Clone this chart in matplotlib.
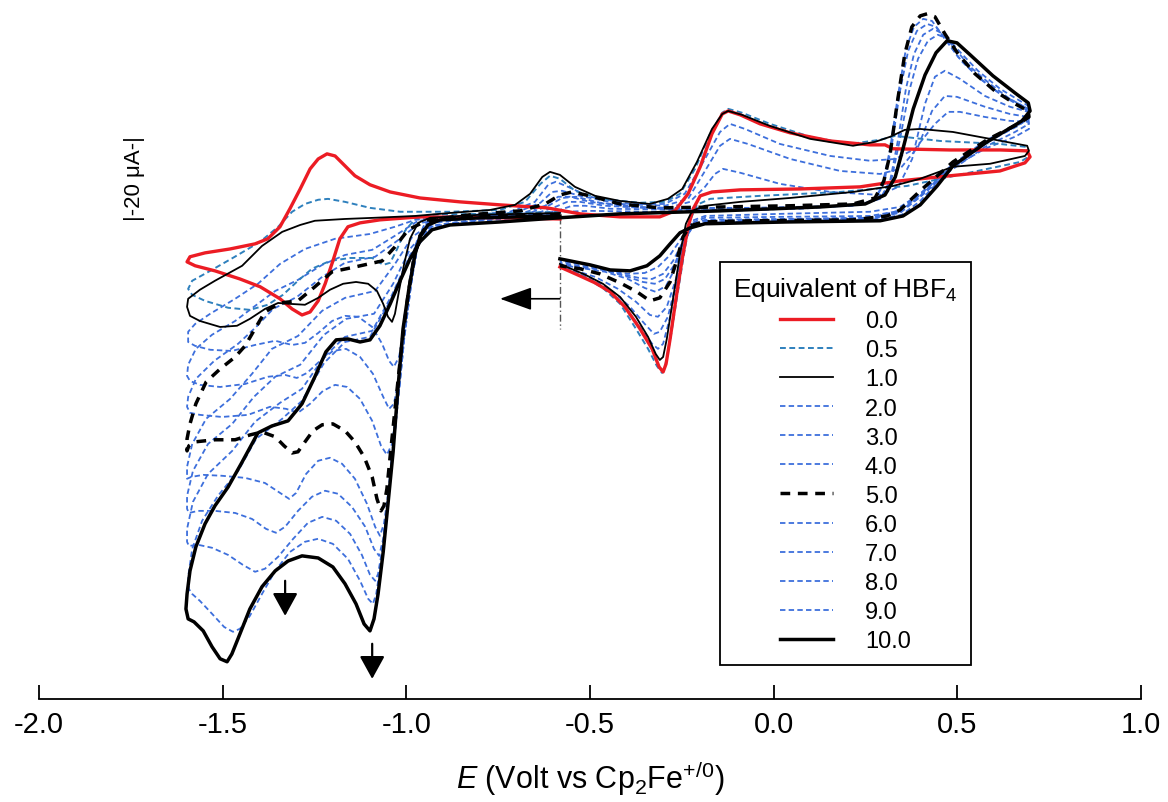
import numpy as np
import matplotlib
matplotlib.use('Agg')
import matplotlib.pyplot as plt
from matplotlib.ticker import FormatStrFormatter

plt.rcParams['font.family'] = ['Liberation Sans', 'DejaVu Sans']
plt.rcParams['mathtext.fontset'] = 'custom'
plt.rcParams['mathtext.rm'] = 'Liberation Sans'
plt.rcParams['mathtext.it'] = 'Liberation Sans:italic'
plt.rcParams['axes.unicode_minus'] = False

# Cyclic voltammograms: E in V vs Cp2Fe+/0, current in uA.
# Every scan starts at -0.58 V, runs to -1.6 V, up to +0.7 V and back to -0.58 V.
e_start = -0.582

e_00 = [-0.582, -0.745, -0.963, -1.072, -1.126, -1.159, -1.181, -1.200, -1.221, -1.240, -1.262, -1.284, -1.311, -1.344, -1.398, -1.453, -1.521, -1.575, -1.597,
        -1.589, -1.548, -1.480, -1.412, -1.377, -1.344, -1.317, -1.289, -1.262, -1.240, -1.216, -1.194, -1.167, -1.140, -1.099, -1.044, -0.963, -0.854, -0.745, -0.617,
        -0.527, -0.418, -0.310, -0.269, -0.233, -0.200, -0.168, -0.140, -0.124, -0.091, -0.037, 0.045, 0.154, 0.262, 0.303, 0.325, 0.480, 0.616, 0.690,
        0.698, 0.684, 0.616, 0.480, 0.344, 0.235, 0.072, -0.091, -0.168, -0.200, -0.219, -0.233, -0.249, -0.266, -0.282, -0.293, -0.301, -0.312, -0.331, -0.364,
        -0.405, -0.445, -0.486, -0.527, -0.582]
i_00 = [-1.7, -1.3, -1.0, -2.0, -3.0, -4.3, -8.3, -15.7, -23.3, -29.0, -32.7, -33.7, -31.7, -28.3, -24.3, -21.7, -19.0, -17.3, -16.0,
        -14.3, -13.0, -11.7, -10.0, -8.3, -4.3, 1.7, 8.3, 15.0, 18.3, 20.0, 19.3, 16.0, 12.7, 9.7, 7.3, 5.3, 4.0, 3.0, 2.0,
        0.0, -1.0, -1.0, 1.0, 6.7, 15.7, 26.7, 33.3, 34.3, 33.0, 30.0, 27.0, 24.3, 23.0, 23.0, 21.7, 21.3, 21.3, 21.0,
        19.0, 17.0, 14.3, 12.7, 11.0, 9.0, 8.3, 8.0, 7.3, 6.0, 1.7, -4.3, -15.0, -28.3, -41.7, -50.0, -52.7, -51.0, -45.0, -38.3,
        -31.0, -26.0, -23.0, -20.7, -17.7]

e_05 = [-0.582, -0.799, -0.935, -0.976, -1.004, -1.025, -1.044, -1.063, -1.093, -1.153, -1.208, -1.257, -1.295, -1.336, -1.377, -1.426, -1.485, -1.548, -1.583, -1.594,
        -1.583, -1.534, -1.467, -1.398, -1.349, -1.311, -1.276, -1.240, -1.213, -1.167, -1.099, -1.017, -0.881, -0.745, -0.677, -0.635, -0.609, -0.582,
        -0.541, -0.473, -0.364, -0.296, -0.255, -0.214, -0.173, -0.140, -0.124, -0.086, -0.010, 0.099, 0.208, 0.290, 0.331, 0.453, 0.616, 0.690,
        0.693, 0.671, 0.543, 0.363, 0.181, -0.037, -0.173, -0.209, -0.228, -0.244, -0.263, -0.282, -0.296, -0.304, -0.318, -0.342, -0.375, -0.418,
        -0.465, -0.513, -0.582]
i_05 = [0.7, 0.0, -0.3, -1.7, -5.7, -11.7, -16.3, -17.0, -14.7, -14.7, -15.7, -18.3, -22.3, -27.0, -30.3, -32.0, -31.3, -29.0, -27.0, -25.0,
        -22.3, -19.0, -14.3, -9.3, -4.3, 0.7, 3.3, 4.7, 5.0, 4.0, 2.0, 0.7, 0.7, 1.3, 4.0, 10.0, 12.7, 11.7,
        7.7, 5.0, 3.7, 4.0, 6.7, 15.0, 26.7, 33.7, 35.0, 33.7, 30.0, 25.7, 23.3, 24.7, 26.0, 24.3, 23.3, 22.3,
        19.0, 17.3, 14.0, 9.3, 7.3, 6.0, 5.0, 3.0, -2.3, -13.3, -27.7, -42.3, -51.0, -53.0, -50.7, -45.0, -38.3, -30.0,
        -24.7, -21.3, -17.7]

e_10 = [-0.582, -0.799, -0.935, -0.968, -0.990, -1.006, -1.020, -1.031, -1.039, -1.050, -1.063, -1.080, -1.104, -1.137, -1.172, -1.208, -1.240, -1.276,
        -1.317, -1.349, -1.385, -1.426, -1.461, -1.507, -1.562, -1.589, -1.597,
        -1.594, -1.562, -1.521, -1.447, -1.393, -1.338, -1.289, -1.249, -1.167, -1.085, -0.976, -0.881, -0.772, -0.704, -0.663, -0.630, -0.609, -0.582,
        -0.541, -0.486, -0.418, -0.337, -0.288, -0.249, -0.209, -0.168, -0.140, -0.124, -0.086, -0.010, 0.099, 0.216, 0.276, 0.317, 0.357, 0.399,
        0.488, 0.589, 0.690,
        0.695, 0.684, 0.589, 0.488, 0.399, 0.325, 0.216, 0.045, -0.091, -0.187, -0.222, -0.239, -0.255, -0.274, -0.291, -0.301, -0.310, -0.321,
        -0.342, -0.375, -0.418, -0.465, -0.513, -0.582]
i_10 = [0.3, -0.3, -1.3, -3.0, -8.3, -16.7, -25.7, -33.3, -36.0, -34.3, -30.0, -25.7, -23.3, -22.7, -23.3, -25.3, -28.0, -30.3,
        -30.0, -29.7, -31.7, -35.0, -37.3, -37.7, -35.7, -34.0, -31.0,
        -28.3, -25.3, -22.3, -17.3, -10.7, -6.0, -3.7, -2.3, -1.7, -1.3, -0.7, 0.3, 1.3, 3.0, 6.7, 12.3, 14.0, 13.0,
        9.0, 6.0, 4.3, 3.3, 5.0, 8.3, 17.3, 28.3, 33.3, 34.3, 33.0, 29.3, 25.0, 22.7, 24.0, 25.7, 28.0, 28.3,
        27.3, 25.0, 22.7,
        21.0, 19.3, 16.7, 15.7, 11.7, 9.3, 7.3, 5.3, 4.0, 2.7, 1.0, -3.3, -13.3, -28.3, -41.7, -47.7, -48.7, -46.7,
        -41.0, -34.3, -27.7, -23.3, -20.3, -16.7]

e_20 = [-0.582, -0.908, -0.949, -0.974, -0.990, -1.006, -1.020, -1.034, -1.047, -1.066, -1.093, -1.131, -1.167, -1.202, -1.240, -1.276, -1.311,
        -1.357, -1.412, -1.475, -1.534, -1.575, -1.594,
        -1.594, -1.575, -1.534, -1.466, -1.404, -1.344, -1.276, -1.194, -1.099, -1.031, -0.976, -0.854, -0.718, -0.650, -0.614, -0.593, -0.560,
        -0.500, -0.391, -0.296, -0.242, -0.187, -0.146, -0.119, -0.078, 0.017, 0.154, 0.262, 0.331, 0.385, 0.439, 0.475, 0.507, 0.575, 0.643, 0.693,
        0.695, 0.657, 0.575, 0.480, 0.399, 0.344, 0.262, 0.017, -0.187, -0.222, -0.242, -0.260, -0.282, -0.301, -0.315, -0.331, -0.364, -0.413,
        -0.465, -0.513, -0.582]
i_20 = [0.0, -1.0, -3.0, -10.0, -21.7, -38.3, -47.7, -51.0, -49.0, -43.3, -37.7, -34.3, -34.0, -35.7, -39.7, -43.0, -43.7,
        -42.3, -43.7, -45.7, -45.3, -44.0, -42.7,
        -39.3, -36.7, -33.3, -28.3, -23.3, -16.7, -11.7, -8.3, -6.7, -4.3, -2.0, -0.7, 0.7, 4.0, 9.7, 10.7, 9.0,
        5.7, 3.3, 3.3, 6.7, 18.3, 27.3, 30.0, 28.3, 23.3, 19.3, 17.7, 18.3, 21.7, 30.0, 34.0, 34.0, 32.3, 31.0, 30.7,
        28.3, 25.7, 21.7, 15.0, 6.7, 2.3, 0.7, 0.0, -0.7, -2.3, -8.3, -20.0, -34.3, -43.3, -45.0, -43.3, -37.7, -30.0,
        -24.3, -21.0, -17.3]

e_30 = [-0.582, -0.908, -0.949, -0.974, -0.990, -1.006, -1.020, -1.034, -1.047, -1.063, -1.091, -1.126, -1.164, -1.200, -1.235, -1.270, -1.298,
        -1.330, -1.377, -1.439, -1.507, -1.562, -1.589, -1.597,
        -1.594, -1.573, -1.529, -1.466, -1.412, -1.357, -1.295, -1.229, -1.167, -1.093, -1.031, -0.968, -0.854, -0.704, -0.635, -0.603, -0.576,
        -0.527, -0.418, -0.296, -0.233, -0.187, -0.146, -0.119, -0.070, 0.045, 0.181, 0.290, 0.344, 0.393, 0.431, 0.466, 0.499, 0.575, 0.643, 0.693,
        0.695, 0.657, 0.575, 0.480, 0.399, 0.344, 0.262, 0.017, -0.187, -0.222, -0.242, -0.263, -0.288, -0.310, -0.326, -0.351, -0.391, -0.440,
        -0.494, -0.582]
i_30 = [0.0, -1.3, -3.3, -10.3, -21.7, -38.3, -55.0, -63.3, -65.0, -61.0, -53.3, -47.7, -45.0, -45.7, -49.0, -53.0, -54.7,
        -53.7, -54.3, -56.7, -57.7, -57.0, -55.7, -54.0,
        -50.3, -45.0, -40.3, -35.7, -30.7, -25.7, -22.0, -17.0, -13.7, -12.0, -7.3, -2.3, -1.0, 0.3, 3.7, 7.3, 7.7,
        6.0, 3.3, 2.7, 5.0, 14.3, 22.7, 25.0, 23.3, 18.3, 14.3, 13.3, 15.0, 22.3, 34.3, 39.3, 39.0, 35.7, 33.3, 32.3,
        30.0, 27.3, 22.3, 14.3, 5.7, 1.0, -0.7, -1.0, -1.3, -3.0, -9.0, -21.7, -34.3, -39.3, -40.0, -36.7, -31.0, -25.7,
        -21.7, -17.7]

e_40 = [-0.582, -0.908, -0.949, -0.974, -0.990, -1.006, -1.023, -1.039, -1.053, -1.069, -1.093, -1.126, -1.161, -1.194, -1.227, -1.262, -1.295,
        -1.327, -1.371, -1.431, -1.502, -1.562, -1.589, -1.597,
        -1.594, -1.573, -1.523, -1.458, -1.409, -1.363, -1.298, -1.229, -1.167, -1.085, -1.025, -0.963, -0.854, -0.690, -0.622, -0.587, -0.554,
        -0.500, -0.391, -0.288, -0.228, -0.187, -0.160, -0.138, -0.091, 0.017, 0.154, 0.290, 0.339, 0.377, 0.412, 0.439, 0.466, 0.507, 0.575, 0.643, 0.693,
        0.695, 0.657, 0.575, 0.480, 0.399, 0.344, 0.262, 0.017, -0.187, -0.222, -0.244, -0.266, -0.291, -0.315, -0.337, -0.375, -0.424, -0.486, -0.582]
i_40 = [-0.3, -1.3, -3.7, -10.7, -21.7, -38.3, -61.7, -76.7, -80.3, -77.3, -69.0, -61.7, -57.7, -57.0, -59.0, -63.3, -66.3,
        -65.0, -64.3, -67.0, -67.7, -67.0, -66.3, -64.3,
        -61.0, -55.0, -49.0, -43.3, -37.7, -31.7, -27.7, -21.0, -16.3, -14.3, -9.0, -3.0, -1.3, 0.0, 2.7, 5.7, 5.7,
        4.0, 2.3, 2.0, 4.0, 9.0, 13.3, 15.0, 13.7, 10.0, 7.3, 6.3, 9.0, 18.3, 36.7, 45.7, 47.7, 45.0, 39.3, 35.7, 34.0,
        31.7, 29.0, 23.3, 15.0, 5.7, 0.3, -1.3, -1.7, -2.0, -3.7, -10.0, -21.7, -31.0, -34.3, -33.7, -29.3, -25.0, -21.0, -17.3]

e_50 = [-0.582, -0.799, -0.908, -0.941, -0.963, -0.979, -0.995, -1.012, -1.028, -1.042, -1.053, -1.061, -1.069, -1.080, -1.093, -1.115, -1.140,
        -1.167, -1.200, -1.229, -1.254, -1.276, -1.295, -1.311, -1.333, -1.357, -1.393, -1.426, -1.466, -1.521, -1.575, -1.592, -1.597,
        -1.597, -1.589, -1.573, -1.545, -1.507, -1.466, -1.439, -1.412, -1.385, -1.344, -1.295, -1.249, -1.202, -1.140, -1.066, -1.031, -0.995,
        -0.941, -0.826, -0.690, -0.622, -0.582, -0.549, -0.500, -0.418, -0.310, -0.146, 0.045, 0.216, 0.276, 0.300, 0.317, 0.336, 0.357, 0.376,
        0.399, 0.418, 0.439, 0.466, 0.502, 0.548, 0.602, 0.657, 0.693,
        0.695, 0.671, 0.581, 0.488, 0.399, 0.344, 0.309, 0.216, -0.056, -0.192, -0.228, -0.247, -0.263, -0.282, -0.310, -0.337, -0.372, -0.418,
        -0.473, -0.527, -0.582]
i_50 = [-0.3, -1.0, -1.7, -3.3, -7.3, -14.3, -26.7, -43.3, -61.7, -78.3, -91.7, -97.3, -99.0, -95.0, -87.7, -81.0, -76.0,
        -72.3, -70.0, -70.3, -72.3, -76.0, -79.3, -79.7, -77.3, -74.3, -72.7, -73.7, -75.3, -75.3, -76.0, -77.3, -79.0,
        -75.0, -70.0, -63.3, -56.0, -51.7, -47.7, -44.0, -38.3, -32.7, -29.7, -29.0, -24.3, -19.3, -17.7, -15.7, -11.0, -5.3,
        -2.0, -0.3, 1.0, 3.3, 6.3, 7.3, 6.0, 3.3, 2.0, 2.3, 2.7, 3.3, 5.3, 11.0, 20.0, 36.7, 53.3, 62.3,
        66.0, 66.7, 65.7, 60.0, 53.3, 46.7, 41.0, 36.7, 34.3,
        32.3, 30.3, 24.7, 17.3, 7.7, 1.3, -0.7, -2.0, -2.3, -2.7, -4.0, -7.7, -15.0, -22.7, -28.0, -29.0, -26.0, -23.0,
        -20.0, -18.3, -17.3]

e_60 = [-0.582, -0.908, -0.949, -0.971, -0.987, -1.006, -1.025, -1.044, -1.061, -1.072, -1.085, -1.107, -1.140, -1.175, -1.208, -1.240, -1.273,
        -1.300, -1.319, -1.344, -1.385, -1.439, -1.502, -1.553, -1.586, -1.597,
        -1.597, -1.583, -1.545, -1.480, -1.420, -1.366, -1.295, -1.229, -1.167, -1.085, -1.031, -0.984, -0.930, -0.799, -0.663, -0.609, -0.576,
        -0.538, -0.473, -0.337, -0.064, 0.208, 0.268, 0.295, 0.317, 0.339, 0.360, 0.382, 0.407, 0.431, 0.461, 0.502, 0.556, 0.616, 0.693,
        0.695, 0.665, 0.575, 0.485, 0.399, 0.339, 0.262, 0.017, -0.187, -0.222, -0.247, -0.269, -0.293, -0.321, -0.351, -0.397, -0.459, -0.527, -0.582]
i_60 = [-0.3, -1.7, -3.7, -11.0, -23.3, -41.7, -65.0, -88.3, -103.3, -107.3, -104.3, -96.7, -88.3, -83.3, -81.3, -82.3, -86.7,
        -93.0, -95.0, -93.0, -89.7, -88.0, -87.3, -87.0, -87.7, -88.3,
        -84.3, -76.7, -68.3, -61.7, -53.3, -45.0, -40.7, -32.3, -28.0, -25.7, -16.7, -7.7, -3.0, -1.3, 0.3, 3.0, 5.3,
        5.7, 3.7, 2.0, 2.0, 2.7, 4.0, 9.0, 21.7, 40.0, 55.0, 62.3, 65.0, 64.3, 59.3, 52.3, 45.7, 40.0, 35.0,
        32.7, 30.0, 24.3, 16.3, 6.7, 1.0, -1.3, -2.0, -2.3, -4.0, -10.0, -18.3, -24.0, -26.0, -24.7, -21.7, -19.3, -18.0, -17.0]

e_70 = [-0.582, -0.908, -0.949, -0.971, -0.987, -1.006, -1.025, -1.044, -1.063, -1.074, -1.088, -1.112, -1.148, -1.186, -1.221, -1.257, -1.295,
        -1.330, -1.355, -1.382, -1.420, -1.466, -1.521, -1.567, -1.592, -1.597,
        -1.597, -1.581, -1.540, -1.474, -1.415, -1.357, -1.289, -1.224, -1.164, -1.088, -1.036, -0.990, -0.935, -0.799, -0.650, -0.595, -0.562,
        -0.527, -0.459, -0.310, -0.037, 0.213, 0.273, 0.300, 0.322, 0.344, 0.366, 0.390, 0.418, 0.442, 0.472, 0.513, 0.562, 0.624, 0.693,
        0.695, 0.665, 0.575, 0.485, 0.399, 0.339, 0.262, 0.017, -0.187, -0.222, -0.247, -0.269, -0.296, -0.324, -0.356, -0.405, -0.467, -0.527, -0.582]
i_70 = [-0.7, -1.7, -4.0, -11.3, -23.3, -41.7, -65.0, -88.3, -108.3, -114.0, -111.7, -104.3, -97.7, -93.3, -92.3, -94.3, -99.0,
        -104.3, -106.3, -105.0, -101.7, -99.7, -99.0, -99.0, -99.7, -98.3,
        -94.0, -85.7, -76.7, -70.0, -61.0, -54.3, -50.3, -40.3, -35.0, -33.3, -23.3, -11.7, -4.0, -1.7, 0.0, 2.3, 4.0,
        4.0, 2.7, 1.7, 1.7, 2.7, 4.3, 10.0, 23.3, 41.0, 54.3, 61.0, 63.3, 62.3, 57.3, 50.7, 45.0, 39.3, 34.3,
        32.0, 29.3, 23.7, 16.0, 6.3, 0.7, -1.7, -2.3, -2.7, -4.3, -9.7, -16.7, -21.7, -23.3, -22.7, -20.7, -18.7, -17.7, -16.7]

e_80 = [-0.582, -0.908, -0.949, -0.971, -0.987, -1.006, -1.025, -1.044, -1.063, -1.077, -1.085, -1.099, -1.121, -1.153, -1.191, -1.229, -1.268,
        -1.308, -1.349, -1.385, -1.412, -1.445, -1.485, -1.529, -1.567, -1.592, -1.597,
        -1.597, -1.581, -1.540, -1.474, -1.412, -1.344, -1.284, -1.224, -1.167, -1.093, -1.039, -0.990, -0.935, -0.799, -0.635, -0.582, -0.549,
        -0.513, -0.445, -0.200, 0.072, 0.230, 0.290, 0.317, 0.339, 0.360, 0.382, 0.407, 0.434, 0.461, 0.494, 0.535, 0.589, 0.643, 0.693,
        0.695, 0.665, 0.575, 0.488, 0.399, 0.344, 0.262, 0.017, -0.187, -0.222, -0.249, -0.274, -0.301, -0.331, -0.369, -0.418, -0.473, -0.527, -0.582]
i_80 = [-0.7, -2.0, -4.3, -11.7, -23.3, -41.7, -65.0, -88.3, -110.0, -120.0, -122.3, -120.3, -113.7, -106.7, -102.3, -101.0, -103.0,
        -108.3, -114.3, -118.3, -119.3, -117.0, -113.7, -111.3, -110.3, -110.7, -109.3,
        -105.0, -96.0, -86.7, -79.0, -69.3, -63.0, -58.3, -47.7, -41.0, -39.0, -27.0, -13.7, -4.3, -2.0, -0.3, 1.3, 2.7,
        2.7, 1.7, 1.3, 1.7, 3.0, 5.0, 11.0, 25.0, 41.7, 53.3, 59.7, 61.7, 60.0, 55.0, 49.0, 43.3, 38.3, 35.0,
        32.7, 29.7, 23.7, 16.3, 6.0, 0.7, -2.0, -2.3, -3.0, -4.7, -9.7, -15.7, -20.0, -21.7, -21.3, -20.0, -18.3, -17.3, -16.3]

e_90 = [-0.582, -0.908, -0.949, -0.971, -0.990, -1.009, -1.028, -1.047, -1.066, -1.082, -1.091, -1.104, -1.126, -1.159, -1.200, -1.240, -1.276,
        -1.317, -1.357, -1.393, -1.426, -1.453, -1.472, -1.496, -1.529, -1.562, -1.583, -1.592,
        -1.594, -1.583, -1.556, -1.513, -1.458, -1.409, -1.338, -1.284, -1.224, -1.167, -1.099, -1.044, -0.990, -0.933, -0.799, -0.622, -0.568,
        -0.500, -0.337, -0.037, 0.235, 0.295, 0.322, 0.344, 0.369, 0.393, 0.420, 0.447, 0.475, 0.507, 0.556, 0.616, 0.693,
        0.695, 0.671, 0.581, 0.488, 0.399, 0.349, 0.262, 0.017, -0.187, -0.225, -0.252, -0.282, -0.315, -0.351, -0.397, -0.451, -0.513, -0.582]
i_90 = [-0.7, -2.0, -4.3, -12.0, -25.0, -43.3, -66.7, -90.0, -113.3, -126.7, -130.0, -128.3, -122.3, -115.0, -110.0, -108.3, -109.3,
        -112.7, -119.0, -126.7, -134.0, -138.3, -139.3, -137.7, -133.3, -129.0, -126.7, -125.0,
        -121.0, -111.7, -102.3, -94.0, -85.7, -75.0, -68.3, -62.3, -49.7, -42.7, -41.0, -29.0, -14.3, -4.7, -2.3, -0.7, 0.7,
        1.0, 0.7, 1.3, 3.0, 5.7, 12.3, 25.0, 41.0, 51.7, 57.7, 59.7, 58.3, 54.0, 47.7, 41.7, 36.0,
        33.7, 30.7, 24.0, 16.0, 4.3, -0.3, -2.3, -2.7, -3.0, -4.7, -8.3, -13.7, -17.7, -19.7, -20.0, -18.7, -17.0, -15.7]

e_100 = [-0.582, -0.799, -0.908, -0.941, -0.963, -0.976, -0.993, -1.009, -1.023, -1.036, -1.050, -1.063, -1.077, -1.088, -1.099, -1.115, -1.137,
         -1.167, -1.200, -1.240, -1.284, -1.322, -1.357, -1.393, -1.426, -1.453, -1.475, -1.488, -1.507, -1.529, -1.553, -1.578, -1.594, -1.600,
         -1.597, -1.589, -1.573, -1.548, -1.521, -1.485, -1.447, -1.404, -1.366, -1.322, -1.284, -1.249, -1.219, -1.191, -1.159, -1.126, -1.099,
         -1.072, -1.044, -1.017, -0.990, -0.963, -0.930, -0.881, -0.745, -0.582, -0.418, -0.146, 0.126, 0.249, 0.303, 0.331, 0.352, 0.380, 0.412,
         0.442, 0.472, 0.499, 0.535, 0.597, 0.657, 0.693,
         0.698, 0.676, 0.581, 0.488, 0.445, 0.399, 0.352, 0.290, 0.036, -0.187, -0.228, -0.255, -0.282, -0.310, -0.345, -0.391, -0.445, -0.500, -0.582]
i_100 = [-0.7, -1.3, -2.0, -3.7, -7.7, -13.3, -25.0, -38.3, -58.3, -79.3, -96.7, -112.7, -126.7, -135.0, -139.0, -136.7, -130.0,
         -123.3, -117.7, -114.7, -114.0, -115.7, -119.0, -124.3, -131.7, -140.0, -146.7, -149.3, -148.3, -144.3, -139.0, -136.0, -135.0, -131.7,
         -126.7, -119.0, -111.0, -103.3, -97.3, -91.0, -82.7, -73.0, -70.7, -69.0, -63.3, -54.3, -46.0, -42.0, -41.7, -42.7, -42.0,
         -37.3, -30.0, -22.3, -15.0, -9.3, -5.3, -3.7, -2.7, -1.3, 0.0, 1.0, 2.3, 3.3, 6.3, 12.3, 21.7, 35.0, 46.3,
         53.7, 57.7, 57.0, 53.0, 46.0, 40.3, 37.0,
         34.3, 31.0, 24.0, 16.0, 9.3, 3.0, -0.7, -2.3, -2.7, -3.3, -4.7, -6.3, -10.0, -14.0, -17.3, -19.0, -18.7, -17.0, -15.0]

equivalents = ['0.0', '0.5', '1.0', '2.0', '3.0', '4.0', '5.0', '6.0', '7.0', '8.0', '9.0', '10.0']

red = '#ec1c24'
blue = '#3d6fdc'
teal = '#2e80bd'
blue_dash = (0, (3, 1.8))

curves = [
    (e_00, i_00, dict(color=red, lw=2.4, zorder=5)),
    (e_05, i_05, dict(color=teal, lw=1.4, ls=blue_dash, zorder=4)),
    (e_10, i_10, dict(color='k', lw=1.3, zorder=6)),
    (e_20, i_20, dict(color=blue, lw=1.3, ls=blue_dash, zorder=3)),
    (e_30, i_30, dict(color=blue, lw=1.3, ls=blue_dash, zorder=3)),
    (e_40, i_40, dict(color=blue, lw=1.3, ls=blue_dash, zorder=3)),
    (e_50, i_50, dict(color='k', lw=2.5, ls=(0, (2.8, 2.2)), zorder=7)),
    (e_60, i_60, dict(color=blue, lw=1.3, ls=blue_dash, zorder=3)),
    (e_70, i_70, dict(color=blue, lw=1.3, ls=blue_dash, zorder=3)),
    (e_80, i_80, dict(color=blue, lw=1.3, ls=blue_dash, zorder=3)),
    (e_90, i_90, dict(color=blue, lw=1.3, ls=blue_dash, zorder=3)),
    (e_100, i_100, dict(color='k', lw=2.5, zorder=8)),
]

fig = plt.figure(figsize=(11.68, 8.03), dpi=100)
ax = fig.add_axes([0.0334, 0.1283, 0.9435, 0.8593])

handles = []
for (e, i, style), lab in zip(curves, equivalents):
    line, = ax.plot(e, i, label=lab, solid_joinstyle='round', **style)
    handles.append(line)

ax.set_xlim(-2.0, 1.0)
ax.set_ylim(-161.7, 68.3)
for side in ['left', 'right', 'top']:
    ax.spines[side].set_visible(False)
ax.spines['bottom'].set_linewidth(1.3)
ax.set_yticks([])
ax.set_xticks(np.arange(-2.0, 1.01, 0.5))
ax.xaxis.set_major_formatter(FormatStrFormatter('%.1f'))
ax.tick_params(axis='x', direction='in', length=10, width=1.3, labelsize=21, pad=8)
ax.set_xlabel('$E$ (Volt vs Cp$_2$Fe$^{+/0}$)', fontsize=22, labelpad=14)

# start of the scan and its direction
ax.plot([e_start, e_start], [-1.0, -38.3], color='#555555', lw=1.0, ls=(0, (5, 2, 1, 2)), zorder=2)
ax.annotate('', xy=(-0.745, -28.3), xytext=(e_start, -28.3),
            arrowprops=dict(arrowstyle='-|>,head_length=1.0,head_width=0.36', color='k', lw=1.2,
                            mutation_scale=20, shrinkA=0, shrinkB=0))

# growth of the catalytic waves
for e_arrow, i_top, i_tip in [(-1.330, -122.3, -134.0), (-1.093, -143.3, -155.0)]:
    ax.annotate('', xy=(e_arrow, i_tip), xytext=(e_arrow, i_top),
                arrowprops=dict(arrowstyle='-|>,head_length=1.0,head_width=0.55', color='k', lw=1.6,
                                mutation_scale=14, shrinkA=0, shrinkB=0))

# current scale bar
ax.text(-1.739, 12.0, '|-20 μA-|', rotation=90, ha='center', va='center', fontsize=16)

leg = ax.legend(handles, equivalents, title='Equivalent of HBF$_4$', loc='upper left',
                bbox_to_anchor=(0.618, 0.633), borderaxespad=0, fontsize=17, title_fontsize=19,
                frameon=True, fancybox=False, edgecolor='k', framealpha=1, borderpad=0.55,
                labelspacing=0.3, handlelength=2.25, handletextpad=1.35, alignment='center')
leg.get_frame().set_linewidth(1.3)

fig.savefig('out.png', dpi=100)
